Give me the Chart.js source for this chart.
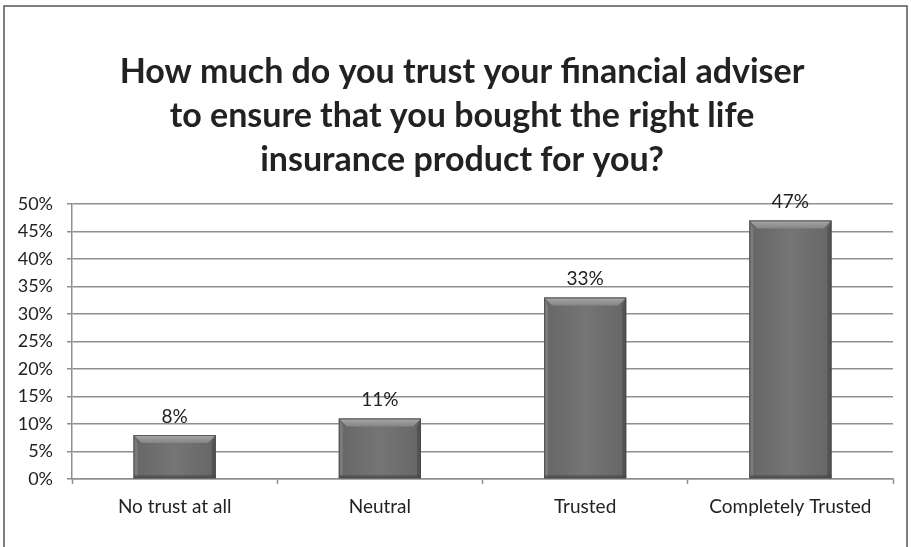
<!DOCTYPE html>
<html>
<head>
<meta charset="utf-8">
<script src="https://cdn.jsdelivr.net/npm/chart.js@4.4.1/dist/chart.umd.min.js"></script>
<style>
  html, body { margin: 0; padding: 0; background: #fff; }
  #wrap { width: 911px; height: 547px; }
</style>
</head>
<body>
<div id="wrap"><canvas id="trustChart" width="911" height="547"></canvas></div>
<script>
// survey answers and share of respondents (%)
const categories = ['No trust at all', 'Neutral', 'Trusted', 'Completely Trusted'];
const shares = [8, 11, 33, 47];
const yTicks = [0, 5, 10, 15, 20, 25, 30, 35, 40, 45, 50];
const titleLines = [
    'How much do you trust your financial adviser',
    'to ensure that you bought the right life',
    'insurance product for you?'
];

const gridGrey = '#8f8f8f';
const textDark = '#222222';
const fontFamily = 'Lato, "Open Sans", sans-serif';

// thin frame round the whole chart
const framePlugin = {
    id: 'frame',
    beforeDraw(chart) {
        const ctx = chart.ctx;
        ctx.save();
        ctx.strokeStyle = '#555';
        ctx.lineWidth = 1.5;
        ctx.strokeRect(4, 6, 903, 580);
        ctx.restore();
    }
};

// three-line heading, centred on the frame rather than the canvas
const headingPlugin = {
    id: 'heading',
    afterDraw(chart) {
        const ctx = chart.ctx;
        ctx.save();
        ctx.font = 'bold 34px ' + fontFamily;
        ctx.fillStyle = textDark;
        ctx.textAlign = 'center';
        ctx.textBaseline = 'middle';
        titleLines.forEach((line, i) => {
            ctx.fillText(line, 462, 72 + i * 44);
        });
        ctx.restore();
    }
};

// bevelled look on every bar
const bevelPlugin = {
    id: 'bevel',
    afterDatasetsDraw(chart) {
        const ctx = chart.ctx;
        chart.getDatasetMeta(0).data.forEach((bar) => {
            const left = bar.x - bar.width / 2;
            const right = bar.x + bar.width / 2;
            const top = bar.y;
            const bottom = bar.base;
            const b = 8;
            ctx.save();
            // body, darker towards the sides
            let body = ctx.createLinearGradient(left, 0, right, 0);
            body.addColorStop(0, '#666666');
            body.addColorStop(0.5, '#757576');
            body.addColorStop(1, '#666666');
            ctx.fillStyle = body;
            ctx.fillRect(left, top, bar.width, bottom - top);
            // top facet
            let g = ctx.createLinearGradient(0, top, 0, top + b);
            g.addColorStop(0, '#a8a8a8');
            g.addColorStop(1, '#858585');
            ctx.fillStyle = g;
            ctx.beginPath();
            ctx.moveTo(left, top);
            ctx.lineTo(right, top);
            ctx.lineTo(right - b, top + b);
            ctx.lineTo(left + b, top + b);
            ctx.closePath();
            ctx.fill();
            // left facet
            ctx.fillStyle = 'rgba(140,140,140,0.55)';
            ctx.beginPath();
            ctx.moveTo(left, top);
            ctx.lineTo(left + b * 0.5, top + b);
            ctx.lineTo(left + b * 0.5, bottom - 3);
            ctx.lineTo(left, bottom);
            ctx.closePath();
            ctx.fill();
            // right facet
            ctx.fillStyle = 'rgba(60,60,60,0.45)';
            ctx.beginPath();
            ctx.moveTo(right, top);
            ctx.lineTo(right - b * 0.5, top + b);
            ctx.lineTo(right - b * 0.5, bottom - 3);
            ctx.lineTo(right, bottom);
            ctx.closePath();
            ctx.fill();
            // bottom facet
            ctx.fillStyle = 'rgba(50,50,50,0.4)';
            ctx.fillRect(left, bottom - 3, bar.width, 3);
            // outline
            ctx.strokeStyle = 'rgba(70,70,70,0.8)';
            ctx.lineWidth = 1;
            ctx.strokeRect(left + 0.5, top + 0.5, bar.width - 1, bottom - top - 1);
            ctx.restore();
        });
    }
};

// percentage above every bar
const valueLabels = {
    id: 'valueLabels',
    afterDraw(chart) {
        const ctx = chart.ctx;
        const ds = chart.data.datasets[0];
        ctx.save();
        ctx.font = '19px ' + fontFamily;
        ctx.fillStyle = textDark;
        ctx.textAlign = 'center';
        ctx.textBaseline = 'bottom';
        chart.getDatasetMeta(0).data.forEach((bar, i) => {
            ctx.fillText(Math.round(ds.data[i]) + '%', bar.x, bar.y - 9);
        });
        ctx.restore();
    }
};

const ctx = document.getElementById('trustChart').getContext('2d');

new Chart(ctx, {
    type: 'bar',
    data: {
        labels: categories,
        datasets: [{
            data: shares,
            backgroundColor: '#707070',
            borderWidth: 0,
            barPercentage: 0.4,
            categoryPercentage: 1
        }]
    },
    options: {
        responsive: false,
        animation: false,
        // top padding leaves room for the heading
        layout: { padding: { left: 0, right: 18, top: 204, bottom: 0 } },
        scales: {
            x: {
                grid: {
                    offset: true,
                    drawOnChartArea: false,
                    drawTicks: true,
                    tickLength: 5,
                    tickColor: gridGrey,
                    tickWidth: 1.5
                },
                border: { color: gridGrey, width: 1.5 },
                ticks: {
                    color: textDark,
                    font: { family: fontFamily, size: 19 },
                    padding: 11,
                    maxRotation: 0
                },
                afterFit(scale) { scale.height = 68; }
            },
            y: {
                min: 0,
                max: 50,
                afterBuildTicks(scale) {
                    scale.ticks = yTicks.map(v => ({ value: v }));
                },
                grid: {
                    color: gridGrey,
                    lineWidth: 1.5,
                    drawTicks: true,
                    tickLength: 5,
                    tickColor: gridGrey
                },
                border: { color: gridGrey, width: 1.5 },
                ticks: {
                    color: textDark,
                    font: { family: fontFamily, size: 18 },
                    padding: 14,
                    callback: v => v + '%'
                },
                afterFit(scale) { scale.width = 72; }
            }
        },
        plugins: {
            legend: { display: false },
            tooltip: { enabled: false },
            title: { display: false }
        }
    },
    plugins: [framePlugin, bevelPlugin, valueLabels, headingPlugin]
});
</script>
</body>
</html>
